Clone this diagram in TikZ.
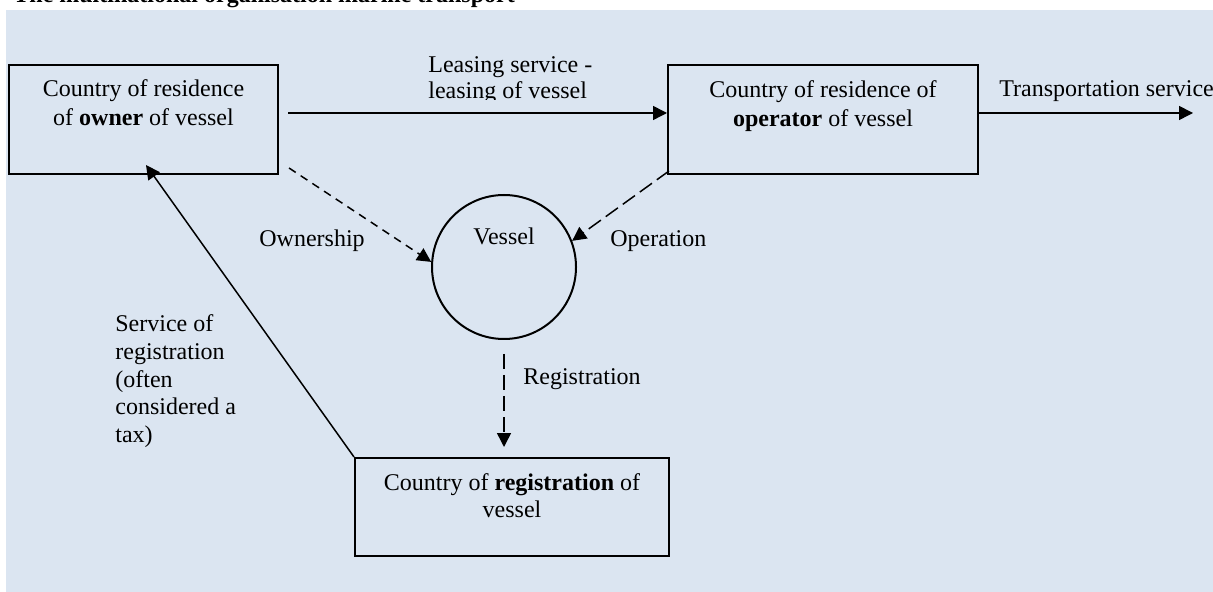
\documentclass[tikz,border=0pt]{standalone}
\usepackage{fontspec}
\setmainfont{Liberation Serif}
\usetikzlibrary{arrows.meta}
\definecolor{bgblue}{HTML}{DBE5F1}
\begin{document}
\begin{tikzpicture}[x=0.5pt,y=-0.5pt,
  every node/.style={font=\fontsize{12}{13.8}\selectfont, inner sep=0pt},
  boxnode/.style={draw, line width=1pt, rectangle, inner sep=0pt},
  txt/.style={anchor=base},
  txtw/.style={anchor=base west},
  arr/.style={line width=0.75pt, -{Triangle[length=7pt,width=7pt]}},
  shortdash/.style={dash pattern=on 4pt off 3pt},
  longdash/.style={dash pattern=on 7.5pt off 3pt}]
\useasboundingbox (0,0) rectangle (1213,592);
\fill[bgblue] (6,10) rectangle (1213,592);
\node[txtw, font=\fontsize{12}{13.8}\selectfont\bfseries] (title) at (13,3) {The multinational organisation marine transport};

% boxes
\node[boxnode, minimum width=134.5pt, minimum height=54.5pt] (owner) at (143.5,119.5) {};
\node[boxnode, minimum width=155pt, minimum height=54.5pt] (operator) at (823,119.5) {};
\node[boxnode, minimum width=157pt, minimum height=49pt] (regbox) at (512,507) {};
\node[draw, circle, line width=1pt, minimum size=72pt] (vessel) at (504,267) {};

% box texts
\node[txt] (owner1) at (143.5,97) {Country of residence};
\node[txt] (owner2) at (143.5,126) {of \textbf{owner} of vessel};
\node[txt] (oper1) at (823,98) {Country of residence of};
\node[txt] (oper2) at (823,127) {\textbf{operator} of vessel};
\node[txt] (reg1) at (512,490) {Country of \textbf{registration} of};
\node[txt] (reg2) at (512,517) {vessel};
\node[txt] (vesseltxt) at (504,245) {Vessel};

% labels
\begin{scope}
\clip (420,50) rectangle (600,100);
\node[txtw] (lease1) at (428,72.5) {Leasing service -};
\node[txtw] (lease2) at (428,98.5) {leasing of vessel};
\end{scope}
\node[txtw] (transp) at (999,97) {Transportation service};
\node[txtw] (ownlbl) at (259,247) {Ownership};
\node[txtw] (oplbl) at (610,247) {Operation};
\node[txtw] (reglbl) at (523,385) {Registration};
\node[txtw] (serv1) at (115,332) {Service of};
\node[txtw] (serv2) at (115,359.5) {registration};
\node[txtw] (serv3) at (115,387) {(often};
\node[txtw] (serv4) at (115,414.5) {considered a};
\node[txtw] (serv5) at (115,442) {tax)};

% connectors
\coordinate (ls) at ([shift={(9,-6.5)}]owner.east);
\draw[arr] (ls) -- (ls -| operator.west);
\coordinate (te) at (1193,113);
\draw[arr] (ls -| operator.east) -- (te);
\coordinate (os) at ([shift={(10,-7)}]owner.south east);
\draw[arr, shortdash] (os) -- (vessel.176);
\coordinate (ops) at ([shift={(2,-4)}]operator.south west);
\draw[arr, longdash] (ops) -- (vessel.21);
\coordinate (rs) at ([shift={(0,14)}]vessel.south);
\coordinate (re) at ([shift={(0,-10)}]rs |- regbox.north);
\draw[arr, longdash] (rs) -- (re);
\coordinate (st) at ([shift={(2.5,-10)}]owner.south);
\draw[arr] (regbox.north west) -- (st);
\end{tikzpicture}
\end{document}
